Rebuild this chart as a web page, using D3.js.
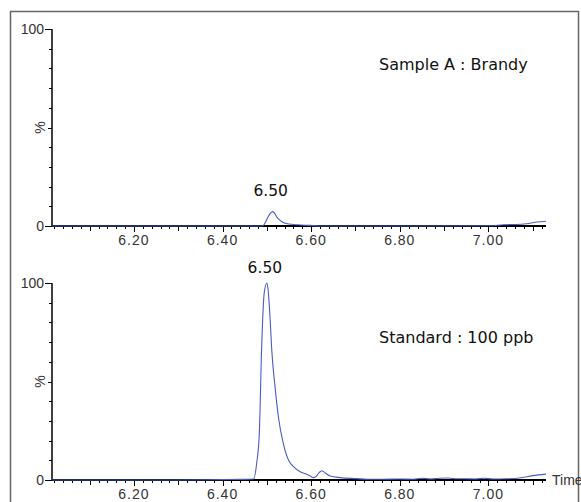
<!DOCTYPE html>
<html>
<head>
<meta charset="utf-8">
<script src="https://cdn.jsdelivr.net/npm/d3@7"></script>
<style>
  html, body { margin: 0; padding: 0; background: #fff; }
  svg { display: block; }
</style>
</head>
<body>
<svg id="chart" width="581" height="502"></svg>
<script>
// ---- data ----
const panelTitles = ["Sample A : Brandy", "Standard : 100 ppb"];
const peakLabels = ["6.50", "6.50"];
const xTickLabels = ["6.20", "6.40", "6.60", "6.80", "7.00"];
const yTickLabels = ["0", "100"];
const xDomain = [6.015, 7.13];

const sampleTimes  = [6.015, 6.2, 6.4, 6.485, 6.492, 6.497, 6.503, 6.508, 6.513, 6.518, 6.522, 6.528, 6.534, 6.549, 6.57, 6.598, 6.62, 6.8, 7.0, 7.034, 7.08, 7.11, 7.13];
const sampleValues = [0, 0, 0, 0, 0.3, 2, 4.7, 6.5, 7.3, 6.3, 4.7, 3.2, 2.2, 1.0, 0.6, 0.3, 0, 0, 0.1, 0.6, 1.0, 2.0, 2.4];

const standardTimes  = [6.015, 6.1, 6.2, 6.3, 6.4, 6.44, 6.47, 6.477, 6.483, 6.488, 6.494, 6.5, 6.503, 6.507, 6.511, 6.519, 6.526, 6.537, 6.549, 6.56, 6.575, 6.59, 6.598, 6.605, 6.612, 6.618, 6.624, 6.631, 6.643, 6.665, 6.703, 6.726, 6.76, 6.8, 6.83, 6.85, 6.87, 6.89, 6.91, 6.93, 6.95, 6.97, 6.99, 7.01, 7.04, 7.07, 7.1, 7.13];
const standardValues = [0, 0, 0, 0, 0.2, 0.3, 0.5, 8.5, 24, 66, 95, 100, 96, 83, 66, 46, 32, 18.6, 10, 6.8, 4.2, 2.9, 2.0, 1.2, 2.0, 3.8, 4.7, 3.7, 2.0, 1.2, 0.7, 0.4, 0.4, 0.5, 0.4, 0.9, 0.5, 0.9, 1.0, 0.6, 0.6, 0.5, 0.9, 0.5, 0.6, 1.0, 2.2, 3.0];

// ---- layout ----
const svg = d3.select("#chart");
const traceColor = "#4a5cc2";
const tickFont = "'Liberation Sans', Arial, sans-serif";
const textFont = "'DejaVu Sans', Verdana, sans-serif";

// outer frame
svg.append("rect")
  .attr("x", 10.5).attr("y", 11.5)
  .attr("width", 568).attr("height", 500)
  .attr("fill", "none").attr("stroke", "#666").attr("stroke-width", 1.5);

const x = d3.scaleLinear().domain(xDomain).range([52, 546]);

const panels = [
  { times: sampleTimes, values: sampleValues, top: 29, bottom: 226, title: panelTitles[0], titleY: 70, label: peakLabels[0], labelOffset: 16, time: false },
  { times: standardTimes, values: standardValues, top: 283, bottom: 480, title: panelTitles[1], titleY: 343, label: peakLabels[1], labelOffset: 10, time: true }
];

const minorX = d3.range(6.02, 7.13, 0.02).map(v => +v.toFixed(2));

panels.forEach(p => {
  const y = d3.scaleLinear().domain([0, 100]).range([p.bottom, p.top]);
  const g = svg.append("g");

  // y axis line
  g.append("line")
    .attr("x1", 52).attr("x2", 52).attr("y1", y(100)).attr("y2", y(0) + 1)
    .attr("stroke", "#000").attr("stroke-width", 1.5);
  // y ticks every 10
  d3.range(0, 101, 10).forEach(v => {
    const len = (v === 0 || v === 100) ? 7 : (v === 50 ? 4 : 3);
    g.append("line")
      .attr("x1", 52 - len).attr("x2", 52)
      .attr("y1", Math.round(y(v)) + 0.5).attr("y2", Math.round(y(v)) + 0.5)
      .attr("stroke", "#000").attr("stroke-width", 1);
  });
  yTickLabels.forEach(t => {
    g.append("text")
      .attr("x", 44).attr("y", y(+t))
      .attr("dy", "0.35em")
      .attr("text-anchor", "end")
      .attr("font-family", tickFont).attr("font-size", 14)
      .attr("fill", "#333")
      .text(t);
  });
  // % label
  g.append("text")
    .attr("transform", `translate(45,${y(50)}) rotate(-90)`)
    .attr("text-anchor", "middle")
    .attr("font-family", tickFont).attr("font-size", 14)
    .attr("fill", "#333")
    .text("%");

  // x axis line
  g.append("line")
    .attr("x1", 52).attr("x2", x(xDomain[1]))
    .attr("y1", y(0)).attr("y2", y(0))
    .attr("stroke", "#000").attr("stroke-width", 2);
  // x ticks
  minorX.forEach(v => {
    const r = Math.round(v * 100);
    const len = (r % 20 === 0) ? 6 : (r % 10 === 0 ? 5 : 3);
    g.append("line")
      .attr("x1", Math.round(x(v)) + 0.5).attr("x2", Math.round(x(v)) + 0.5)
      .attr("y1", y(0)).attr("y2", y(0) + len)
      .attr("stroke", "#000").attr("stroke-width", 1);
  });
  xTickLabels.forEach(t => {
    g.append("text")
      .attr("x", x(+t)).attr("y", y(0) + 19)
      .attr("text-anchor", "middle")
      .attr("font-family", tickFont).attr("font-size", 14)
      .attr("letter-spacing", 1)
      .attr("fill", "#333")
      .text(t);
  });
  if (p.time) {
    g.append("text")
      .attr("x", 552).attr("y", y(0))
      .attr("dy", "0.35em")
      .attr("font-family", tickFont).attr("font-size", 14)
      .attr("fill", "#333")
      .text("Time");
  }

  // trace
  const pts = p.times.map((t, i) => [t, p.values[i]]);
  const line = d3.line().x(d => x(d[0])).y(d => y(d[1])).curve(d3.curveMonotoneX);
  g.append("path")
    .attr("d", line(pts))
    .attr("fill", "none")
    .attr("stroke", traceColor)
    .attr("stroke-width", 1.1);

  // peak label
  const maxIdx = d3.maxIndex(p.values);
  g.append("text")
    .attr("x", x(p.times[maxIdx]) - 2)
    .attr("y", y(p.values[maxIdx]) - p.labelOffset)
    .attr("text-anchor", "middle")
    .attr("font-family", textFont).attr("font-size", 15.5)
    .attr("fill", "#111")
    .text(p.label);

  // title
  g.append("text")
    .attr("x", 379).attr("y", p.titleY)
    .attr("font-family", textFont).attr("font-size", 16)
    .attr("fill", "#111")
    .text(p.title);
});
</script>
</body>
</html>
